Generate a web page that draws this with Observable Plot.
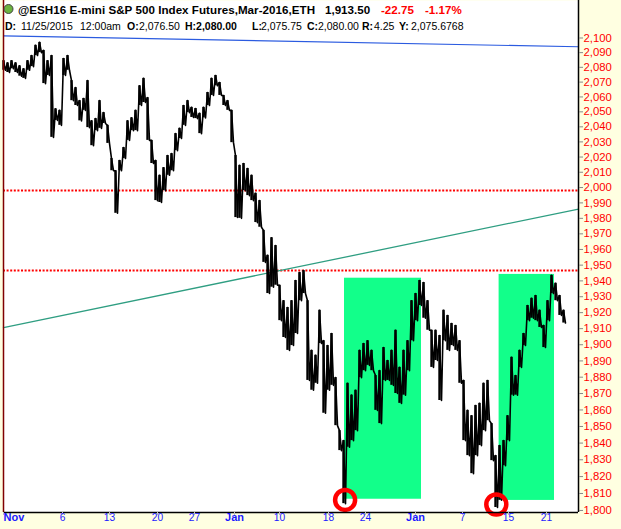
<!DOCTYPE html>
<html><head><meta charset="utf-8">
<script src="https://cdn.jsdelivr.net/npm/d3@7"></script>
<script src="https://cdn.jsdelivr.net/npm/@observablehq/plot@0.6"></script>
<style>
html,body{margin:0;padding:0;background:#ffffe1;}
#wrap{position:relative;width:621px;height:529px;overflow:hidden;font-family:"Liberation Sans",Arial,sans-serif;}
#chart svg{display:block;}
#hdr{position:absolute;left:0;top:0;}
</style></head><body>
<div id="wrap"><div id="chart"></div><svg id="hdr" width="621" height="36"></svg></div>
<script>
// Price bars (one per session column): highs and lows
const barHigh = [2084.5,2083,2084.5,2083,2081,2079,2084.5,2088,2095,2097,
2091.5,2084.5,2088,2052,2051,2086,2088,2071,2066.25,2057.5,
2059,2071,2044,2045.5,2057.5,2049.5,2041,2019,2011,2017.75,
2026.25,2044,2046,2051,2067.5,2072.5,2059.5,2031,2017.75,2008,
2013,2021,2022.25,2035.5,2039,2054.25,2057.5,2053,2052.25,2049,
2053,2063,2072.5,2074.5,2069.75,2061,2057.5,2051,2021,2014.5,
2015.75,2012.5,2008,1996.25,1991.5,1972.25,1956.25,1967.5,1962.5,1937.25,
1927.5,1923.25,1927.5,1940.25,1945.25,1946.5,1927.5,1896.5,1893.5,1921.5,
1902.5,1899.5,1907,1879.75,1847.5,1841.5,1876.25,1869,1872,1896.5,
1900.75,1902.5,1896.5,1881,1884,1898.25,1890.25,1896.5,1909,1886,
1896.5,1902.5,1927.5,1932,1940.25,1939,1927.5,1909,1909,1905.75,
1921.5,1918.25,1913.25,1912,1902.5,1878,1859.75,1856.5,1862.75,1864,
1876.25,1878,1851.75,1832.5,1838.5,1841.5,1856.5,1892.25,1881,1896.5,
1907,1924.5,1929,1930.75,1921.5,1912,1927.5,1943.5,1938.5,1930.75,1921.5];
const barLow = [2078,2076.5,2079,2076.5,2074,2072.5,2078,2080.5,2088,2090,
2069,2074.5,2033,2044.25,2041,2074.5,2078,2057.5,2054.25,2044,
2051,2039.5,2027.5,2037.5,2039,2042.25,2029,2011,1983.25,2011,
2019,2031,2037.5,2037.5,2054.25,2056.25,2031,2015.75,1991.5,1990.25,
1998,2008,2011,2024.25,2032.25,2041,2049.5,2046.25,2045.5,2035.5,
2046,2054.25,2061,2067.5,2061,2054.25,2051,2029.5,1980.5,1980,
1998,1994.75,1991.5,1977.25,1974.25,1951.75,1932,1936,1937.25,1915,
1904.5,1896.5,1899.5,1907,1927.5,1932,1878,1872,1876.25,1900.75,
1858,1872,1875,1850.5,1835.5,1804,1837.5,1841.5,1847.5,1879.75,
1884,1887.25,1884,1859.75,1851.75,1878,1878,1875,1870,1864,
1869,1884,1902.5,1915,1924.5,1916.5,1909,1886,1890.25,1865.75,
1902.5,1896.5,1899.5,1896.5,1876.25,1841.5,1832.5,1821.75,1832.5,1838.5,
1847.5,1853.5,1829.5,1801.75,1806,1826.5,1841.5,1869,1869,1886,
1899.5,1915,1916.5,1915,1910.75,1898.25,1915,1932,1927.5,1918.25,1913.5];

// Horizontal levels (red dotted)
const levelPrices = [1998, 1946.6];
// Trend lines (session, price endpoints)
const blueTrendSession = [0, 143.75], blueTrendPrice = [2101.4, 2094.0];
const greenTrendSession = [0, 143.75], greenTrendPrice = [1910.7, 1986.0];
// Highlighted rally zones
const zoneStart = [85.25, 123.9], zoneEnd = [104.5, 137.75];
const zoneLow = [1806.6, 1805.9], zoneHigh = [1941.7, 1944.1];
// Circled lows
const markSession = [85.4, 123.2], markPrice = [1806.2, 1803.5];
// Axis ticks
const yTicks = d3.range(1800, 2101, 10);
const xTickSession = [0, 14.75, 26.5, 38.5, 47.75, 57.75, 69, 81.25, 90.5, 103, 114.75, 126.25, 135.75];
const xTickLabel = ["Nov","6","13","20","27","Jan","10","18","24","Jan","7","15","21"];
// Header texts
const headerText = ["@ESH16 E-mini S&P 500 Index Futures,Mar-2016,ETH", "1,913.50", "-22.75", "-1.17%",
  "D:", "11/25/2015", "12:00am", "O:", "2,076.50", "H:2,080.00", "L:", "2,075.75", "C:", "2,080.00", "R:", "4.25", "Y:", "2,075.6768"];

const bars = barHigh.map((h, i) => ({session: i, high: h, low: barLow[i]}));
const zig = bars.flatMap(b => [{session: b.session, price: b.high}, {session: b.session + 0.5, price: b.low}]);
const blueTrend = blueTrendSession.map((s, i) => ({session: s, price: blueTrendPrice[i]}));
const greenTrend = greenTrendSession.map((s, i) => ({session: s, price: greenTrendPrice[i]}));
const zones = zoneStart.map((s, i) => ({start: s, end: zoneEnd[i], low: zoneLow[i], high: zoneHigh[i]}));
const marks = markSession.map((s, i) => ({session: s, price: markPrice[i]}));
const xTicks = xTickSession.map((s, i) => ({session: s, label: xTickLabel[i], bold: /[A-Za-z]/.test(xTickLabel[i])}));

const X0 = 0, X1 = 143.75, Y0 = 1798.8, Y1 = 2125.85;

const chart = Plot.plot({
  width: 621, height: 529,
  marginLeft: 3, marginRight: 43, marginTop: 0, marginBottom: 17,
  style: {background: "transparent", fontFamily: "'Liberation Sans', Arial, sans-serif", overflow: "visible"},
  x: {domain: [X0, X1], axis: null},
  y: {type: "log", domain: [Y0, Y1], axis: null},
  marks: [
    Plot.frame({fill: "white", stroke: null}),
    Plot.rect(zones, {x1: "start", x2: "end", y1: "low", y2: "high", fill: "#12ff8a"}),
    Plot.ruleY(levelPrices, {stroke: "#ff0000", strokeWidth: 2, strokeDasharray: "2,1.6"}),
    Plot.line(blueTrend, {x: "session", y: "price", stroke: "#2b5be0", strokeWidth: 1.2}),
    Plot.line(greenTrend, {x: "session", y: "price", stroke: "#2f9e82", strokeWidth: 1.3}),
    Plot.ruleX(bars, {x: "session", y1: "low", y2: "high", stroke: "black", strokeWidth: 2.4}),
    Plot.line(zig, {x: "session", y: "price", stroke: "black", strokeWidth: 1.6}),
    Plot.dot(marks, {x: "session", y: "price", r: 10, stroke: "#ff0000", strokeWidth: 4.5, fill: "none"}),
    Plot.ruleX([X0], {stroke: "#800000", strokeWidth: 1.5}),
    Plot.ruleX([X1], {stroke: "black", strokeWidth: 1.5}),
    Plot.ruleY([Y0], {stroke: "black", strokeWidth: 1.5}),
    Plot.axisY({anchor: "right", ticks: yTicks, tickFormat: d3.format(","), tickSize: 4, tickPadding: 1,
      stroke: "#888", fill: "#ff0000", fontSize: 11.3}),
    Plot.axisX({ticks: xTickSession, tickFormat: () => "", tickSize: 3, stroke: "#bbb"}),
    Plot.text(xTicks, {filter: d => d.bold && d.session === X0, x: "session", text: "label", frameAnchor: "bottom",
      dy: 8.5, textAnchor: "start", fill: "#1a1aff", fontWeight: "bold", fontSize: 11}),
    Plot.text(xTicks, {filter: d => d.bold && d.session !== X0, x: "session", text: "label", frameAnchor: "bottom",
      dy: 8.5, fill: "#1a1aff", fontWeight: "bold", fontSize: 11}),
    Plot.text(xTicks, {filter: d => !d.bold, x: "session", text: "label", frameAnchor: "bottom",
      dy: 8.5, fill: "#1a1aff", fontSize: 10.2})
  ]
});
document.getElementById("chart").appendChild(chart);

// Header annotation (layout of the two quote lines)
const hdrLayout = [
  {x: 18, y: 14, w: 297, bold: true, fill: "#000", size: 11.6},
  {x: 325, y: 14, bold: true, fill: "#000", size: 11.6},
  {x: 381, y: 14, bold: true, fill: "#ff0000", size: 11.6},
  {x: 425, y: 14, bold: true, fill: "#ff0000", size: 11.6},
  {x: 5, y: 30, bold: true}, {x: 21, y: 30}, {x: 80, y: 30},
  {x: 127, y: 30, bold: true}, {x: 139, y: 30},
  {x: 185, y: 30, bold: true},
  {x: 252, y: 30, bold: true}, {x: 261, y: 30},
  {x: 307, y: 30, bold: true}, {x: 318, y: 30},
  {x: 362, y: 30, bold: true}, {x: 374, y: 30},
  {x: 399, y: 30, bold: true}, {x: 411, y: 30}
];
const hdr = d3.select("#hdr");
hdr.append("circle").attr("cx", 8.5).attr("cy", 9).attr("r", 4.5)
  .attr("fill", "#6cb33f").attr("stroke", "#444").attr("stroke-width", 1);
hdr.selectAll("text").data(hdrLayout).join("text")
  .attr("x", d => d.x).attr("y", d => d.y)
  .attr("textLength", d => d.w ?? null).attr("lengthAdjust", d => d.w ? "spacing" : null)
  .attr("font-family", "'Liberation Sans', Arial, sans-serif")
  .attr("font-size", d => d.size || 10.5)
  .attr("font-weight", d => d.bold ? "bold" : "normal")
  .attr("fill", d => d.fill || "#000")
  .text((d, i) => headerText[i]);
</script>
</body></html>
